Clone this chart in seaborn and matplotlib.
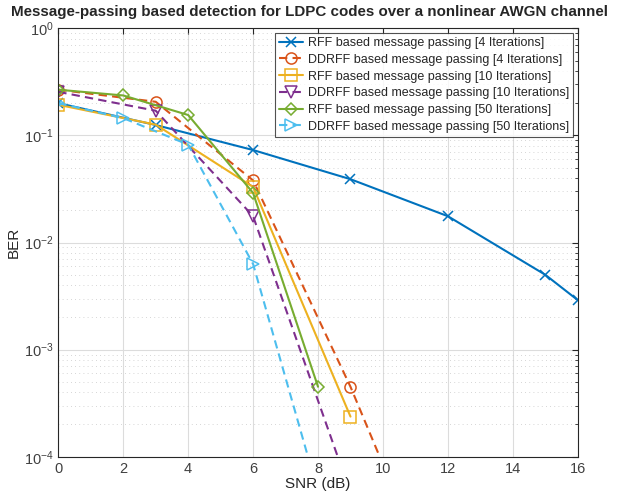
import numpy as np
import pandas as pd
import matplotlib
matplotlib.use("Agg")
import matplotlib.pyplot as plt
import seaborn as sns
from matplotlib.ticker import LogLocator, NullFormatter

# BER values
snr_rff4 = [0, 3, 6, 9, 12, 15, 16]
ber_rff4 = [0.20, 0.125, 0.073, 0.039, 0.0176, 0.0050, 0.0029]

snr_ddrff4 = [0, 3, 6, 9, 12]
ber_ddrff4 = [0.267, 0.206, 0.038, 4.5e-4, 3.0e-6]

snr_rff10 = [0, 3, 6, 9]
ber_rff10 = [0.193, 0.126, 0.033, 2.37e-4]

snr_ddrff10 = [0, 3, 6, 9]
ber_ddrff10 = [0.255, 0.17, 0.0176, 4.6e-5]

snr_rff50 = [0, 2, 4, 6, 8]
ber_rff50 = [0.267, 0.236, 0.155, 0.029, 4.5e-4]

snr_ddrff50 = [0, 2, 4, 6, 8]
ber_ddrff50 = [0.20, 0.145, 0.082, 0.0063, 4.7e-5]

labels = [
    "RFF based message passing [4 Iterations]",
    "DDRFF based message passing [4 Iterations]",
    "RFF based message passing [10 Iterations]",
    "DDRFF based message passing [10 Iterations]",
    "RFF based message passing [50 Iterations]",
    "DDRFF based message passing [50 Iterations]",
]

series = [
    (snr_rff4, ber_rff4, "#0072BD", "x", "-"),
    (snr_ddrff4, ber_ddrff4, "#D95319", "o", "--"),
    (snr_rff10, ber_rff10, "#EDB120", "s", "-"),
    (snr_ddrff10, ber_ddrff10, "#7E2F8E", "v", "--"),
    (snr_rff50, ber_rff50, "#77AC30", "D", "-"),
    (snr_ddrff50, ber_ddrff50, "#4DBEEE", ">", "--"),
]

sns.set_style("white")
plt.rcParams["font.family"] = ["Liberation Sans", "DejaVu Sans"]

fig = plt.figure(figsize=(6.19, 4.98), dpi=100)
ax = fig.add_axes([0.0942, 0.0829, 0.8391, 0.8603])

for (x, y, color, marker, ls), label in zip(series, labels):
    df = pd.DataFrame({"snr": x, "ber": y})
    msize = 8 if marker in ("o", "s", "v", ">") else 7
    if marker == "D":
        msize = 6.5
    sns.lineplot(
        data=df, x="snr", y="ber", ax=ax, color=color, marker=marker,
        linestyle=ls if ls == "-" else (0, (4, 2.5)), linewidth=1.5, markersize=msize,
        markerfacecolor="none", markeredgecolor=color, markeredgewidth=1.1,
        label=label, sort=False, estimator=None,
    )

ax.set_yscale("log")
ax.set_xlim(0, 16)
ax.set_ylim(1e-4, 1)
ax.set_xticks(range(0, 17, 2))
ax.yaxis.set_major_locator(LogLocator(base=10, numticks=10))
ax.yaxis.set_minor_locator(LogLocator(base=10, subs=np.arange(2, 10), numticks=20))
ax.yaxis.set_minor_formatter(NullFormatter())

ax.grid(True, which="major", color="#dcdcdc", linewidth=0.8, linestyle="-")
ax.grid(True, which="minor", axis="y", color="#c8c8c8", linewidth=0.6, linestyle=(0, (1, 4)))
ax.set_axisbelow(True)

for s in ax.spines.values():
    s.set_color("#262626")
    s.set_linewidth(0.8)
ax.tick_params(which="both", direction="in", top=True, right=True,
               colors="#262626", labelcolor="#404040", labelsize=10.5)
ax.tick_params(which="major", length=4)
ax.tick_params(which="minor", length=2.5)

ax.set_xlabel("SNR (dB)", fontsize=11, color="#262626", labelpad=1)
ax.set_ylabel("BER", fontsize=11, color="#262626", labelpad=2)
fig.suptitle("Message-passing based detection for LDPC codes over a nonlinear AWGN channel",
             x=0.5, y=0.99, va="top", fontsize=10.9, fontweight="bold")

leg = ax.legend(loc="upper right", fontsize=9.0, frameon=True, fancybox=False,
                borderpad=0.35, labelspacing=0.38, handlelength=1.9,
                handletextpad=0.4, borderaxespad=0.35)
leg.get_frame().set_edgecolor("#262626")
leg.get_frame().set_linewidth(0.8)

fig.savefig("out.png", dpi=100)
